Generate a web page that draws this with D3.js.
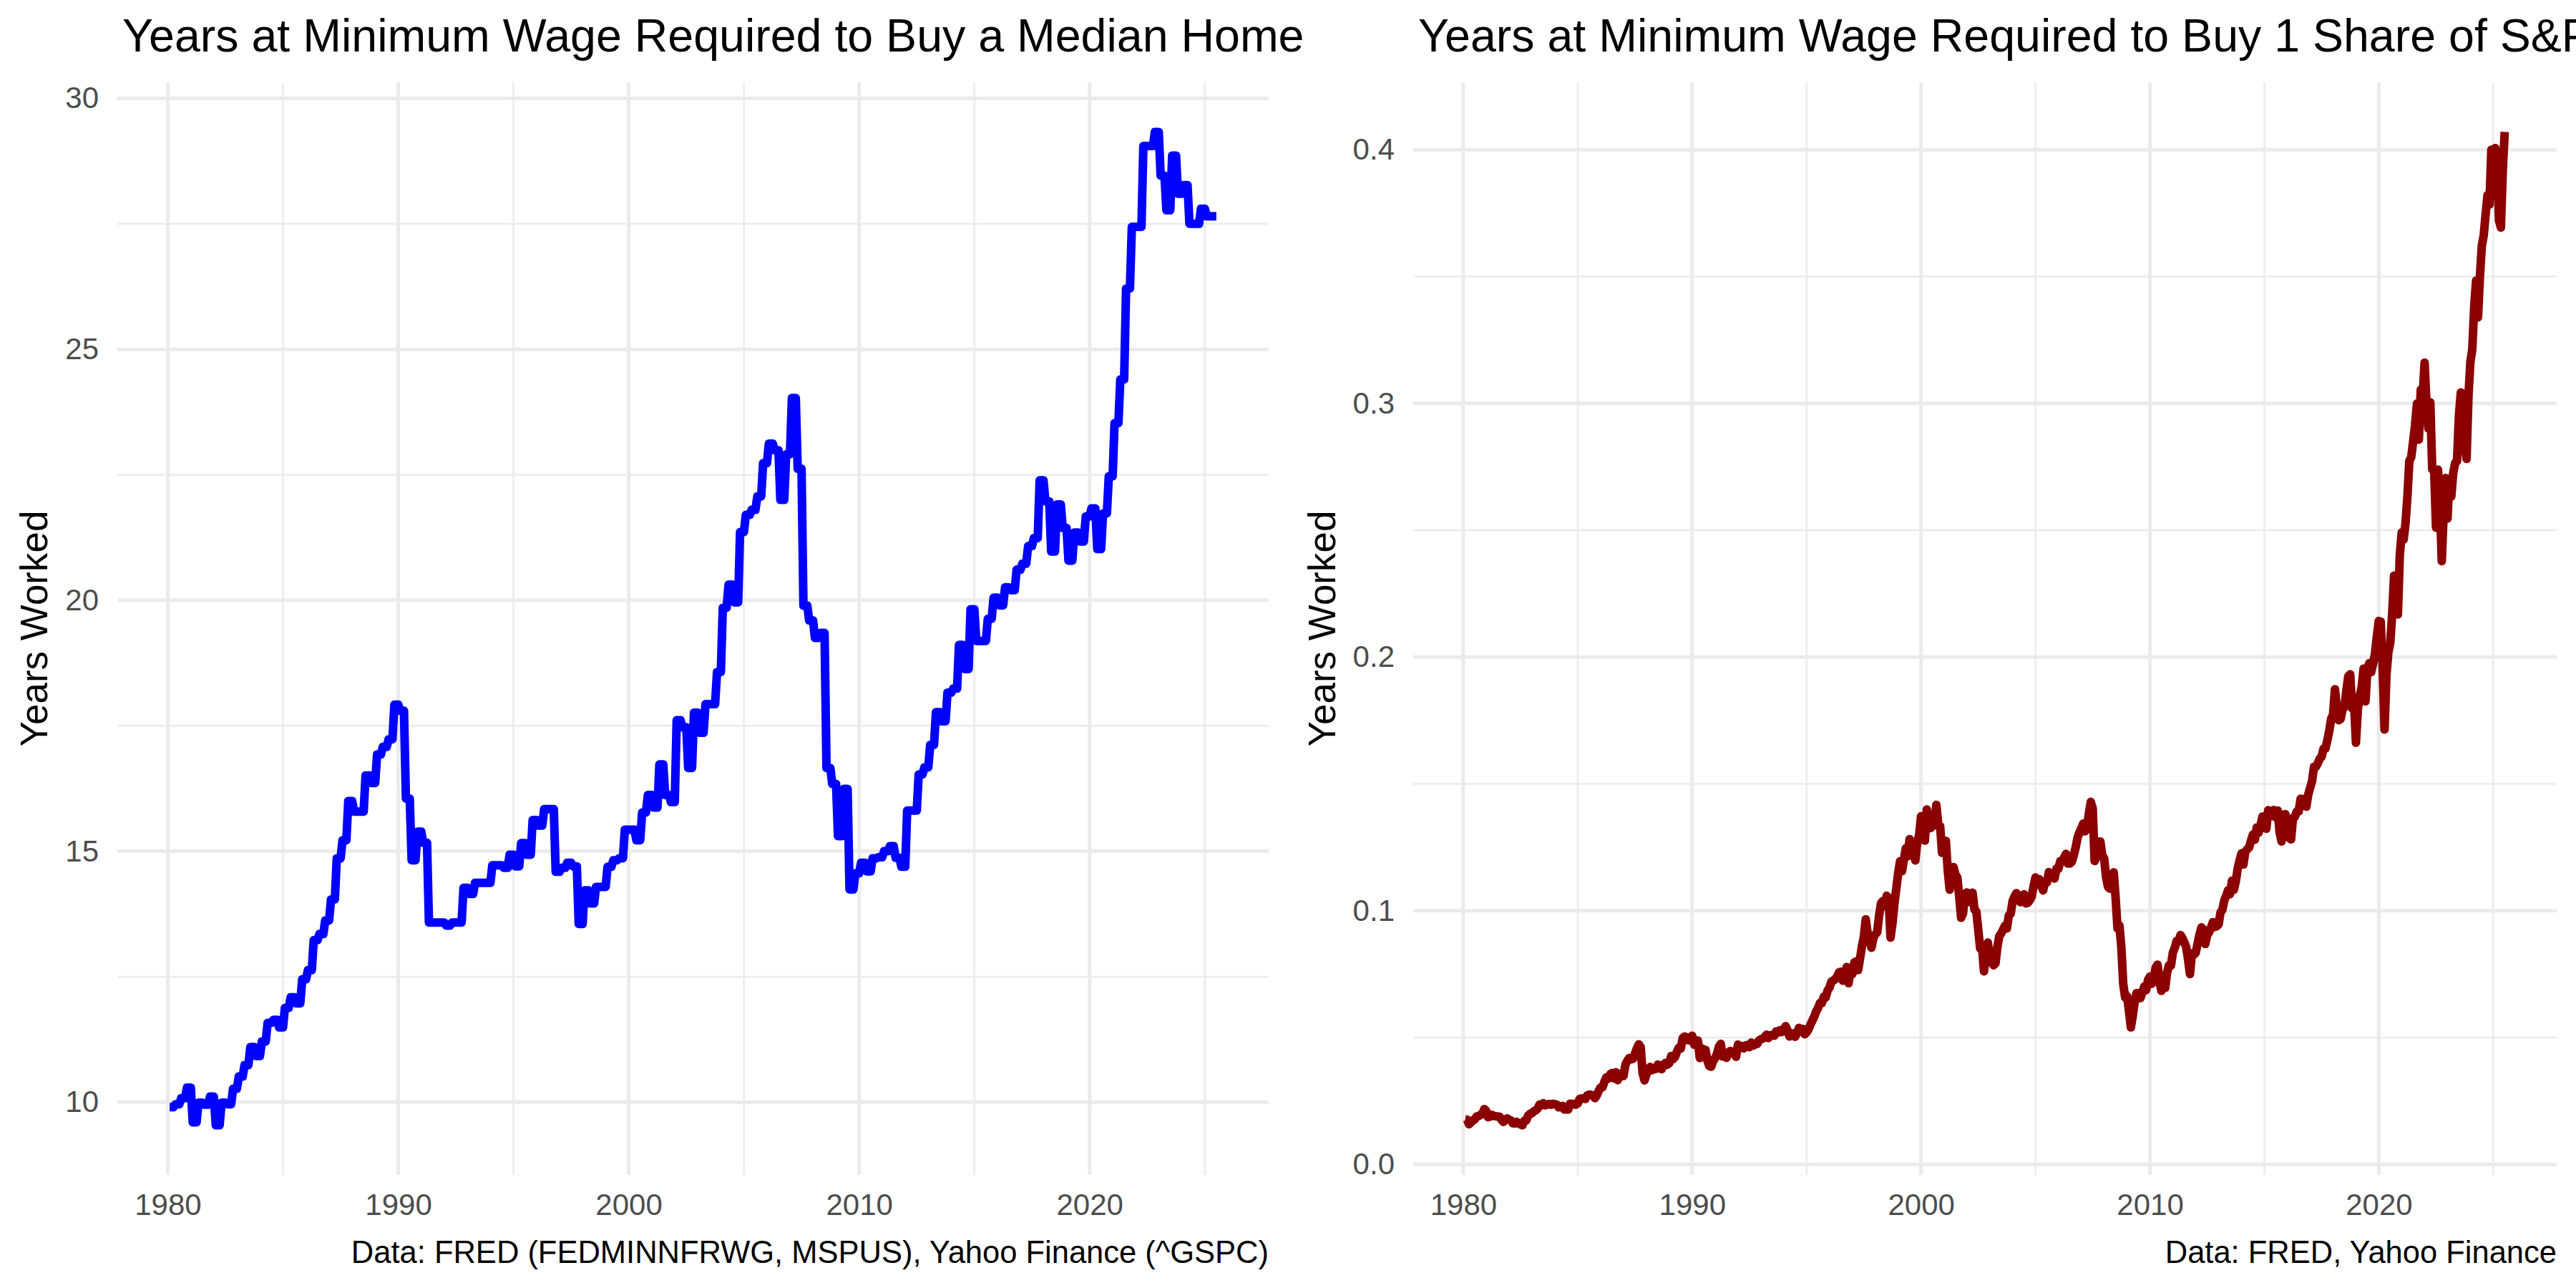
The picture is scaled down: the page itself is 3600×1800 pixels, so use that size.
<!DOCTYPE html>
<html>
<head>
<meta charset="utf-8">
<script src="https://cdn.jsdelivr.net/npm/d3@7"></script>
<style>
  body { margin: 0; background: #fff; }
</style>
</head>
<body>
<svg id="chart"></svg>
<script>
// Years at minimum wage to buy the median home, one value per quarter from 1980 Q1
const homeStartYear = 1980;
const home1980s = [
    9.90, 9.96, 10.08, 10.29,   9.60, 9.99, 9.95, 10.11,   9.54, 9.99, 9.96, 10.27,
    10.51, 10.74, 11.10, 10.92, 11.21, 11.58, 11.64, 11.49, 11.88, 12.09, 11.97, 12.45,
    12.63, 13.23, 13.35, 13.62, 14.04, 14.86, 15.22, 16.00, 15.79, 15.79, 16.51, 16.36,
    16.93, 17.08, 17.23, 17.92
];
const home1990s = [
    17.80, 16.05, 14.82, 15.39, 15.17, 13.58, 13.58, 13.58, 13.52, 13.58, 13.58, 14.27,
    14.15, 14.37, 14.37, 14.37, 14.72, 14.72, 14.67, 14.93, 14.70, 15.16, 14.93, 15.62,
    15.51, 15.84, 15.84, 14.59, 14.67, 14.77, 14.70, 13.55, 14.22, 13.96, 14.29, 14.29,
    14.69, 14.82, 14.86, 15.43
];
const home2000s = [
    15.43, 15.22, 15.77, 16.12, 15.87, 16.73, 16.12, 15.98, 17.61, 17.47, 16.66, 17.76,
    17.36, 17.93, 17.93, 18.57, 19.85, 20.31, 19.96, 21.36, 21.70, 21.80, 22.07, 22.73,
    23.12, 22.99, 22.00, 22.91, 24.03, 22.62, 19.89, 19.60, 19.25, 19.35, 16.66, 16.34,
    15.30, 16.24, 14.24, 14.56
];
const home2010s = [
    14.77, 14.60, 14.86, 14.88, 15.00, 15.10, 14.87, 14.69, 15.81, 15.81, 16.53, 16.67,
    17.12, 17.77, 17.59, 18.16, 18.24, 19.11, 18.63, 19.82, 19.19, 19.19, 19.63, 20.05,
    19.90, 20.26, 20.20, 20.61, 20.73, 21.08, 21.24, 22.39, 21.97, 20.97, 21.91, 21.44,
    20.79, 21.35, 21.17, 21.67
];
const home2020s = [
    21.83, 21.02, 21.73, 22.47, 23.53, 24.40, 26.21, 27.44, 27.44, 29.05, 29.05, 29.33,
    28.46, 27.77, 28.86, 28.10, 28.27, 27.50, 27.50, 27.80, 27.65, 27.65
];

// Years at minimum wage to buy one S&P 500 share, one value per month-end from Jan 1980
const spStartYear = 1980;
const sp1980s = [
    0.0177, 0.0176, 0.0158, 0.0165, 0.0173, 0.0177, 0.0189, 0.0190, 0.0195, 0.0198, 0.0218, 0.0211,
    0.0186, 0.0188, 0.0195, 0.0191, 0.0190, 0.0188, 0.0188, 0.0176, 0.0167, 0.0175, 0.0181, 0.0176,
    0.0173, 0.0162, 0.0161, 0.0167, 0.0161, 0.0157, 0.0154, 0.0172, 0.0173, 0.0192, 0.0199, 0.0202,
    0.0209, 0.0213, 0.0220, 0.0236, 0.0233, 0.0241, 0.0233, 0.0236, 0.0238, 0.0235, 0.0239, 0.0237,
    0.0235, 0.0225, 0.0228, 0.0230, 0.0216, 0.0220, 0.0216, 0.0239, 0.0238, 0.0238, 0.0235, 0.0240,
    0.0258, 0.0260, 0.0259, 0.0258, 0.0272, 0.0275, 0.0274, 0.0271, 0.0261, 0.0272, 0.0290, 0.0303,
    0.0304, 0.0326, 0.0343, 0.0338, 0.0355, 0.0360, 0.0339, 0.0363, 0.0332, 0.0350, 0.0358, 0.0348,
    0.0393, 0.0408, 0.0419, 0.0414, 0.0416, 0.0436, 0.0457, 0.0473, 0.0462, 0.0361, 0.0331, 0.0355,
    0.0369, 0.0384, 0.0372, 0.0375, 0.0376, 0.0393, 0.0390, 0.0375, 0.0390, 0.0400, 0.0393, 0.0399,
    0.0427, 0.0415, 0.0423, 0.0444, 0.0460, 0.0456, 0.0497, 0.0504, 0.0501, 0.0489, 0.0497, 0.0507
];
const sp1990s = [
    0.0472, 0.0476, 0.0488, 0.0419, 0.0457, 0.0453, 0.0451, 0.0408, 0.0387, 0.0385, 0.0408, 0.0418,
    0.0435, 0.0464, 0.0475, 0.0425, 0.0441, 0.0420, 0.0439, 0.0447, 0.0439, 0.0444, 0.0424, 0.0472,
    0.0462, 0.0467, 0.0457, 0.0469, 0.0470, 0.0462, 0.0480, 0.0468, 0.0473, 0.0474, 0.0488, 0.0493,
    0.0496, 0.0502, 0.0511, 0.0498, 0.0509, 0.0510, 0.0507, 0.0524, 0.0519, 0.0529, 0.0522, 0.0528,
    0.0545, 0.0528, 0.0504, 0.0510, 0.0516, 0.0503, 0.0518, 0.0538, 0.0523, 0.0534, 0.0513, 0.0520,
    0.0532, 0.0551, 0.0566, 0.0582, 0.0603, 0.0616, 0.0636, 0.0636, 0.0661, 0.0658, 0.0685, 0.0697,
    0.0720, 0.0725, 0.0730, 0.0740, 0.0757, 0.0759, 0.0724, 0.0738, 0.0778, 0.0714, 0.0766, 0.0750,
    0.0796, 0.0800, 0.0766, 0.0811, 0.0859, 0.0896, 0.0966, 0.0910, 0.0884, 0.0854, 0.0892, 0.0906,
    0.0915, 0.0980, 0.1029, 0.1038, 0.1018, 0.1059, 0.1046, 0.0894, 0.0949, 0.1026, 0.1086, 0.1148,
    0.1195, 0.1156, 0.1201, 0.1246, 0.1215, 0.1282, 0.1240, 0.1233, 0.1198, 0.1272, 0.1297, 0.1372
];
const sp2000s = [
    0.1302, 0.1276, 0.1399, 0.1356, 0.1326, 0.1358, 0.1336, 0.1417, 0.1341, 0.1334, 0.1228, 0.1233,
    0.1275, 0.1158, 0.1083, 0.1166, 0.1172, 0.1143, 0.1131, 0.1058, 0.0972, 0.0989, 0.1064, 0.1072,
    0.1055, 0.1033, 0.1071, 0.1005, 0.0996, 0.0924, 0.0851, 0.0855, 0.0761, 0.0827, 0.0874, 0.0821,
    0.0799, 0.0785, 0.0792, 0.0856, 0.0900, 0.0910, 0.0925, 0.0941, 0.0930, 0.0981, 0.0988, 0.1038,
    0.1056, 0.1069, 0.1051, 0.1034, 0.1046, 0.1065, 0.1029, 0.1031, 0.1041, 0.1055, 0.1096, 0.1131,
    0.1103, 0.1124, 0.1102, 0.1080, 0.1112, 0.1112, 0.1152, 0.1139, 0.1147, 0.1127, 0.1166, 0.1165,
    0.1195, 0.1196, 0.1209, 0.1224, 0.1186, 0.1186, 0.1192, 0.1217, 0.1247, 0.1286, 0.1308, 0.1324,
    0.1343, 0.1313, 0.1326, 0.1384, 0.1429, 0.1403, 0.1196, 0.1211, 0.1255, 0.1273, 0.1217, 0.1207,
    0.1133, 0.1094, 0.1087, 0.1139, 0.1151, 0.1052, 0.0930, 0.0942, 0.0856, 0.0711, 0.0658, 0.0663,
    0.0606, 0.0540, 0.0586, 0.0641, 0.0675, 0.0675, 0.0655, 0.0677, 0.0701, 0.0687, 0.0727, 0.0740
];
const sp2010s = [
    0.0712, 0.0732, 0.0776, 0.0787, 0.0722, 0.0684, 0.0731, 0.0696, 0.0757, 0.0785, 0.0783, 0.0834,
    0.0853, 0.0880, 0.0879, 0.0904, 0.0892, 0.0876, 0.0857, 0.0808, 0.0750, 0.0831, 0.0827, 0.0834,
    0.0870, 0.0906, 0.0934, 0.0927, 0.0869, 0.0903, 0.0915, 0.0933, 0.0955, 0.0936, 0.0939, 0.0946,
    0.0993, 0.1004, 0.1041, 0.1059, 0.1081, 0.1065, 0.1118, 0.1083, 0.1115, 0.1165, 0.1198, 0.1226,
    0.1182, 0.1233, 0.1242, 0.1249, 0.1276, 0.1300, 0.1280, 0.1328, 0.1308, 0.1338, 0.1371, 0.1365,
    0.1323, 0.1396, 0.1371, 0.1383, 0.1397, 0.1368, 0.1395, 0.1308, 0.1273, 0.1379, 0.1380, 0.1355,
    0.1287, 0.1281, 0.1366, 0.1370, 0.1391, 0.1392, 0.1441, 0.1440, 0.1438, 0.1410, 0.1458, 0.1485,
    0.1511, 0.1567, 0.1567, 0.1581, 0.1599, 0.1607, 0.1638, 0.1639, 0.1671, 0.1708, 0.1756, 0.1773,
    0.1873, 0.1800, 0.1751, 0.1756, 0.1794, 0.1803, 0.1868, 0.1924, 0.1932, 0.1798, 0.1830, 0.1662,
    0.1793, 0.1847, 0.1880, 0.1954, 0.1825, 0.1951, 0.1976, 0.1941, 0.1974, 0.2014, 0.2083, 0.2142
];
const sp2020s = [
    0.2139, 0.1959, 0.1714, 0.1931, 0.2019, 0.2056, 0.2169, 0.2321, 0.2230, 0.2168, 0.2402, 0.2491,
    0.2463, 0.2527, 0.2635, 0.2773, 0.2788, 0.2850, 0.2915, 0.2999, 0.2857, 0.3054, 0.3029, 0.3161,
    0.2994, 0.2901, 0.3004, 0.2740, 0.2740, 0.2510, 0.2739, 0.2623, 0.2378, 0.2568, 0.2706, 0.2546,
    0.2703, 0.2633, 0.2725, 0.2765, 0.2772, 0.2951, 0.3043, 0.2989, 0.2844, 0.2781, 0.3029, 0.3163,
    0.3213, 0.3380, 0.3484, 0.3339, 0.3500, 0.3621, 0.3662, 0.3746, 0.3821, 0.3784, 0.4000, 0.3900,
    0.4006, 0.3949, 0.3721, 0.3693, 0.3920, 0.4070
];

// Axis breaks
const xBreaks = [1980, 1990, 2000, 2010, 2020];
const xMinorBreaks = [1985, 1995, 2005, 2015, 2025];
const homeBreaks = [10, 15, 20, 25, 30];
const homeMinorBreaks = [12.5, 17.5, 22.5, 27.5];
const spBreaks = [0, 0.1, 0.2, 0.3, 0.4];
const spMinorBreaks = [0.05, 0.15, 0.25, 0.35];

const homeTitle = "Years at Minimum Wage Required to Buy a Median Home";
const spTitle = "Years at Minimum Wage Required to Buy 1 Share of S&P 500";
const homeCaption = "Data: FRED (FEDMINNFRWG, MSPUS), Yahoo Finance (^GSPC)";
const spCaption = "Data: FRED, Yahoo Finance";
const yTitle = "Years Worked";

// Page layout
const width = 3600;
const height = 1800;
const panelTop = 115;
const panelBottom = 1642;
const font = "'Liberation Sans', Arial, Helvetica, sans-serif";
const gridColor = "#EBEBEB";

const svg = d3.select("#chart")
    .attr("width", width)
    .attr("height", height)
    .style("background", "#fff");

// Quarterly values sit flat over the three month-ends of their quarter
const homePoints = [];
const homeYears = [].concat(home1980s, home1990s, home2000s, home2010s, home2020s);
homeYears.forEach((v, i) => {
    const t = homeStartYear + Math.floor(i / 4) + (i % 4) * 0.25;
    homePoints.push([t + 1 / 12, v], [t + 3 / 12, v]);
});
const spYears = [].concat(sp1980s, sp1990s, sp2000s, sp2010s, sp2020s);
const spPoints = spYears.map((v, i) => [spStartYear + (i + 1) / 12, v]);

// ggplot style 5% padding on the data range
function expand(ext) {
    const pad = (ext[1] - ext[0]) * 0.05;
    return [ext[0] - pad, ext[1] + pad];
}

function drawPanel(p) {
    const x = d3.scaleLinear()
        .domain(expand(d3.extent(p.points, d => d[0])))
        .range([p.left, p.right]);
    const y = d3.scaleLinear()
        .domain(expand(d3.extent(p.points, d => d[1])))
        .range([panelBottom, panelTop]);

    const g = svg.append("g");

    // Minor grid
    g.selectAll(".ymin")
        .data(p.yMinor)
        .enter()
        .append("line")
        .attr("x1", p.left).attr("x2", p.right)
        .attr("y1", d => y(d)).attr("y2", d => y(d))
        .style("stroke", gridColor)
        .style("stroke-width", 2.5);
    g.selectAll(".xmin")
        .data(xMinorBreaks)
        .enter()
        .append("line")
        .attr("x1", d => x(d)).attr("x2", d => x(d))
        .attr("y1", panelTop).attr("y2", panelBottom)
        .style("stroke", gridColor)
        .style("stroke-width", 2.5);

    // Major grid
    g.selectAll(".ymaj")
        .data(p.yBreaks)
        .enter()
        .append("line")
        .attr("x1", p.left).attr("x2", p.right)
        .attr("y1", d => y(d)).attr("y2", d => y(d))
        .style("stroke", gridColor)
        .style("stroke-width", 5);
    g.selectAll(".xmaj")
        .data(xBreaks)
        .enter()
        .append("line")
        .attr("x1", d => x(d)).attr("x2", d => x(d))
        .attr("y1", panelTop).attr("y2", panelBottom)
        .style("stroke", gridColor)
        .style("stroke-width", 5);

    // Tick labels
    const yAxis = g.append("g")
        .attr("transform", `translate(${p.left},0)`)
        .call(d3.axisLeft(y).tickValues(p.yBreaks).tickFormat(p.yFormat).tickSize(0).tickPadding(26));
    const xAxis = g.append("g")
        .attr("transform", `translate(0,${panelBottom})`)
        .call(d3.axisBottom(x).tickValues(xBreaks).tickFormat(d3.format("d")).tickSize(0).tickPadding(26));
    [yAxis, xAxis].forEach(a => {
        a.select(".domain").remove();
        a.attr("font-size", 42).attr("font-family", font);
        a.selectAll("text").attr("fill", "#4D4D4D");
    });

    // Data line
    g.append("path")
        .datum(p.points)
        .attr("d", d3.line().x(d => x(d[0])).y(d => y(d[1])))
        .style("fill", "none")
        .style("stroke", p.color)
        .style("stroke-width", 12)
        .style("stroke-linejoin", "round");

    // Titles
    g.append("text")
        .attr("x", p.left + 7)
        .attr("y", 72)
        .attr("font-family", font)
        .attr("font-size", 64.5)
        .attr("fill", "#000")
        .text(p.title);

    g.append("text")
        .attr("x", p.yTitleX)
        .attr("y", (panelTop + panelBottom) / 2)
        .attr("text-anchor", "middle")
        .attr("transform", `rotate(-90, ${p.yTitleX}, ${(panelTop + panelBottom) / 2})`)
        .attr("font-family", font)
        .attr("font-size", 53)
        .attr("fill", "#000")
        .text(yTitle);

    g.append("text")
        .attr("x", p.right)
        .attr("y", 1765)
        .attr("text-anchor", "end")
        .attr("font-family", font)
        .attr("font-size", 43.5)
        .attr("fill", "#000")
        .text(p.caption);
}

drawPanel({
    points: homePoints, left: 164, right: 1773, yTitleX: 66,
    yBreaks: homeBreaks, yMinor: homeMinorBreaks, yFormat: d3.format("d"),
    color: "#0000FF", title: homeTitle, caption: homeCaption
});

drawPanel({
    points: spPoints, left: 1975, right: 3573, yTitleX: 1866,
    yBreaks: spBreaks, yMinor: spMinorBreaks, yFormat: d3.format(".1f"),
    color: "#8B0000", title: spTitle, caption: spCaption
});
</script>
</body>
</html>
